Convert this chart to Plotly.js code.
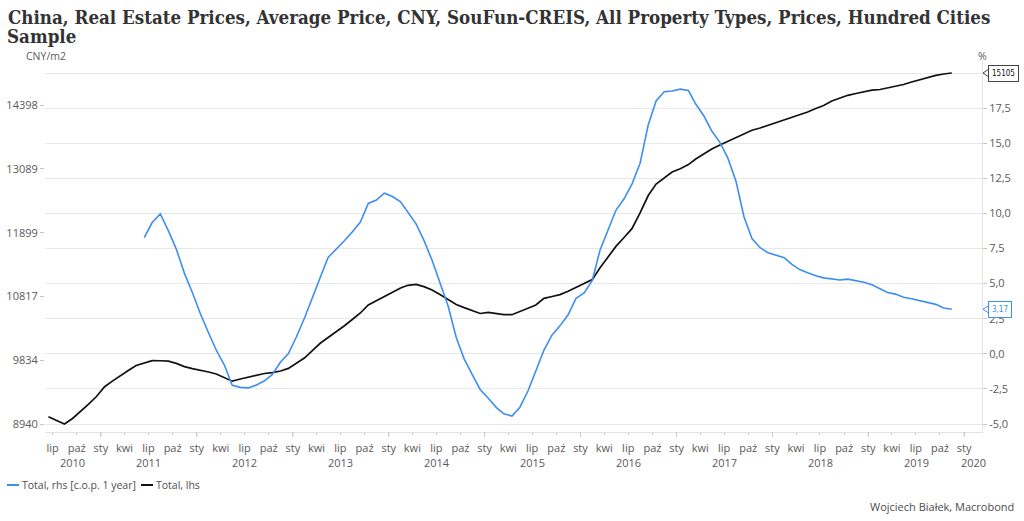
<!DOCTYPE html>
<html>
<head>
<meta charset="utf-8">
<script src="https://cdn.plot.ly/plotly-3.0.1.min.js"></script>
<style>html,body{margin:0;padding:0;background:#fff;}#chart{width:1024px;height:521px;}</style>
</head>
<body>
<div id="chart"></div>
<script>
// ---- data ----
const titleLine1 = "China, Real Estate Prices, Average Price, CNY, SouFun-CREIS, All Property Types, Prices, Hundred Cities";
const titleLine2 = "Sample";
const blackName = "Total, lhs";
const blueName = "Total, rhs [c.o.p. 1 year]";
const blackStart = [2010, 6];   // first month of the price series
const blueStart = [2011, 6];    // first month of the y/y series
const priceTotal = [
  9038, 8987, 8940, 9014, 9106, 9211, 9315, 9452, 9535, 9611,
  9684, 9757, 9790, 9827, 9826, 9820, 9787, 9741, 9712, 9691,
  9662, 9634, 9586, 9531, 9562, 9590, 9619, 9641, 9654, 9677,
  9714, 9793, 9870, 9973, 10086, 10174, 10258, 10350, 10451, 10553,
  10680, 10752, 10816, 10889, 10955, 10999, 11014, 10977, 10922, 10847,
  10768, 10688, 10638, 10592, 10545, 10562, 10542, 10526, 10526, 10572,
  10627, 10680, 10787, 10816, 10847, 10901, 10966, 11030, 11095, 11287,
  11476, 11657, 11813, 11970, 12254, 12578, 12796, 12919, 13028, 13091,
  13173, 13284, 13389, 13482, 13566, 13642, 13717, 13799, 13866, 13913,
  13970, 14022, 14074, 14127, 14188, 14250, 14323, 14389, 14486, 14551,
  14610, 14650, 14687, 14724, 14737, 14770, 14806, 14848, 14904, 14955,
  15004, 15053, 15083, 15105
];
const yoyTotal = [
  8.27, 9.35, 9.96, 8.76, 7.46, 5.73, 4.37, 2.83,
  1.48, 0.27, -0.80, -2.24, -2.39, -2.43, -2.22, -1.92, -1.47, -0.58,
  0.01, 1.23, 2.59, 4.01, 5.43, 6.86, 7.43, 8.03, 8.68, 9.39,
  10.71, 10.95, 11.44, 11.20, 10.83, 10.10, 9.26, 8.08, 6.66, 5.06,
  3.40, 1.16, -0.36, -1.49, -2.54, -3.16, -3.83, -4.27, -4.43, -3.82,
  -2.65, -1.23, 0.27, 1.35, 1.99, 2.78, 3.95, 4.33, 5.22, 7.36,
  8.85, 10.22, 11.04, 12.09, 13.57, 16.30, 18.01, 18.66, 18.72, 18.85,
  18.75, 17.79, 16.94, 15.87, 15.06, 13.95, 12.31, 9.74, 8.21, 7.56,
  7.20, 7.04, 6.85, 6.38, 6.00, 5.78, 5.56, 5.41, 5.32, 5.26,
  5.32, 5.22, 5.09, 4.91, 4.62, 4.37, 4.25, 4.03, 3.92, 3.79,
  3.65, 3.52, 3.26, 3.17
];
const leftTicks = [8940, 9834, 10817, 11899, 13089, 14398];
const rightTicks = [-5, -2.5, 0, 2.5, 5, 7.5, 10, 12.5, 15, 17.5, 20];
const monthLabels = {1: "sty", 4: "kwi", 7: "lip", 10: "paź"};
const yearLabels = [2010, 2011, 2012, 2013, 2014, 2015, 2016, 2017, 2018, 2019, 2020];
const xRange = ["2010-06-02", "2020-03-09"];
const creditText = "Wojciech Białek, Macrobond";

// ---- helpers ----
const pad2 = n => (n < 10 ? "0" : "") + n;
function monthly(start, n) {
  const out = [];
  for (let k = 0; k < n; k++) {
    const m0 = start[1] - 1 + k;
    const y = start[0] + Math.floor(m0 / 12);
    const m = (m0 % 12) + 1;
    out.push(y + "-" + pad2(m) + "-15");
  }
  return out;
}
const W = 1024, H = 521;
const mL = 45, mR = 42, mT = 62, mB = 89;
const pw = W - mL - mR, ph = H - mT - mB;
const PX = x => (x - mL) / pw;
const PY = y => (H - mB - y) / ph;

// axes ranges: data extremes sit on the -5 / 20 gridlines, with a little padding
const botPad = 8, topPad = 11, span = ph - botPad - topPad;
const lmin = Math.log10(Math.min(...priceTotal)), lmax = Math.log10(Math.max(...priceTotal));
const lper = (lmax - lmin) / span;
const leftRange = [lmin - botPad * lper, lmax + topPad * lper];
const rper = (rightTicks[rightTicks.length - 1] - rightTicks[0]) / span;
const rightRange = [rightTicks[0] - botPad * rper, rightTicks[rightTicks.length - 1] + topPad * rper];

// x ticks (quarters) and Jan tick marks
const xTickVals = [], xTickText = [], janTicks = [];
for (let y = 2010; y <= 2020; y++) {
  for (const m of [1, 4, 7, 10]) {
    const d = y + "-" + pad2(m) + "-01";
    if (d >= xRange[0] && d <= xRange[1]) {
      xTickVals.push(d); xTickText.push(monthLabels[m]);
      if (m === 1) janTicks.push(d);
    }
  }
}
const t0 = Date.parse(xRange[0] + "T00:00:00Z"), t1 = Date.parse(xRange[1] + "T00:00:00Z");
const fmt = ms => new Date(ms).toISOString().slice(0, 19).replace("T", " ");

const tickFont = {family: "Open Sans, Noto Sans, sans-serif", size: 11, color: "#595959"};
const titleFont = {family: "DejaVu Serif Condensed, DejaVu Serif, serif", size: 18.6, weight: "bold", color: "#333"};
const blue = "#3d8ef0", black = "#111111";

const traces = [
  {x: monthly(blueStart, yoyTotal.length), y: yoyTotal, name: blueName, type: "scatter", mode: "lines",
   yaxis: "y2", line: {color: blue, width: 1.6}, showlegend: false, hoverinfo: "skip"},
  {x: monthly(blackStart, priceTotal.length), y: priceTotal, name: blackName, type: "scatter", mode: "lines",
   yaxis: "y", line: {color: black, width: 1.7}, showlegend: false, hoverinfo: "skip"}
];

const annotations = [];
const shapes = [];
// second title line
annotations.push({x: PX(5), xref: "paper", y: PY(36), yref: "paper", text: titleLine2, showarrow: false,
  xanchor: "left", yanchor: "middle", font: titleFont});
// year labels centred in the visible part of each year
for (const yr of yearLabels) {
  const a = Math.max(Date.parse(yr + "-01-01T00:00:00Z"), t0);
  const b = Math.min(Date.parse((yr + 1) + "-01-01T00:00:00Z"), t1);
  if (b <= a) continue;
  annotations.push({x: fmt((a + b) / 2), xref: "x", y: PY(462), yref: "paper", text: String(yr),
    showarrow: false, xanchor: "center", yanchor: "middle", font: tickFont});
}
for (const d of janTicks) {
  shapes.push({type: "line", xref: "x", x0: d, x1: d, yref: "paper", ysizemode: "pixel", yanchor: 0,
    y0: 0, y1: -5, line: {color: "#c4c4c4", width: 1}});
}
// unit labels
annotations.push({x: PX(24), xref: "paper", y: PY(56), yref: "paper", text: "CNY/m2", showarrow: false,
  xanchor: "left", yanchor: "middle", font: {family: tickFont.family, size: 10.5, color: "#595959"}});
annotations.push({x: PX(982), xref: "paper", y: PY(56), yref: "paper", text: "%", showarrow: false,
  xanchor: "center", yanchor: "middle", font: {family: tickFont.family, size: 10.5, color: "#595959"}});
// last value boxes with a small notch pointing at the axis
const lastP = priceTotal[priceTotal.length - 1], lastY = yoyTotal[yoyTotal.length - 1];
const pLast = (Math.log10(lastP) - leftRange[0]) / (leftRange[1] - leftRange[0]);
const yLast = (lastY - rightRange[0]) / (rightRange[1] - rightRange[0]);
const boxFont = {family: "DejaVu Sans Condensed, sans-serif", size: 8};
[[pLast, String(lastP), "#444", "#111"], [yLast, lastY.toFixed(2).replace(".", ","), blue, blue]].forEach(([py, txt, bc, tc]) => {
  shapes.push({type: "path", xref: "paper", xsizemode: "pixel", xanchor: 1, yref: "paper", ysizemode: "pixel", yanchor: py,
    path: "M 7 -4 L 1 0 L 7 4 Z", fillcolor: "#fff", line: {color: bc, width: 1}, layer: "above"});
  annotations.push({x: 1, xref: "paper", xshift: 6, y: py, yref: "paper", text: txt,
    showarrow: false, xanchor: "left", yanchor: "middle", bgcolor: "#fff", bordercolor: bc, borderwidth: 1,
    borderpad: 3, font: Object.assign({color: tc}, boxFont)});
});
// manual legend
const legY = 485, legFont = {family: tickFont.family, size: 10.5, color: "#4d4d4d"};
shapes.push({type: "line", xref: "paper", yref: "paper", x0: PX(7), x1: PX(19), y0: PY(legY), y1: PY(legY), line: {color: blue, width: 2}});
annotations.push({x: PX(20), xref: "paper", y: PY(legY), yref: "paper", text: blueName, showarrow: false,
  xanchor: "left", yanchor: "middle", font: legFont});
shapes.push({type: "line", xref: "paper", yref: "paper", x0: PX(141), x1: PX(153), y0: PY(legY), y1: PY(legY), line: {color: black, width: 2}});
annotations.push({x: PX(154), xref: "paper", y: PY(legY), yref: "paper", text: blackName, showarrow: false,
  xanchor: "left", yanchor: "middle", font: legFont});
// credit
annotations.push({x: PX(1016), xref: "paper", y: PY(506), yref: "paper", text: creditText, showarrow: false,
  xanchor: "right", yanchor: "middle", font: {family: tickFont.family, size: 11, color: "#4d4d4d"}});

const layout = {
  width: W, height: H,
  margin: {l: mL, r: mR, t: mT, b: mB, pad: 0},
  paper_bgcolor: "#fff", plot_bgcolor: "#fff",
  showlegend: false,
  title: {text: titleLine1, x: 8 / W, xref: "container", xanchor: "left", y: 1 - 17 / H, yref: "container", yanchor: "middle",
    font: titleFont},
  xaxis: {type: "date", range: xRange, tickmode: "array", tickvals: xTickVals, ticktext: xTickText,
    ticks: "outside", ticklen: 2, tickcolor: "#c4c4c4", showgrid: false, zeroline: false, ticklabelstandoff: 4,
    showline: true, linecolor: "#e3e3e3", linewidth: 1, tickfont: tickFont, fixedrange: true},
  yaxis: {type: "log", range: leftRange, tickmode: "array", tickvals: leftTicks, ticktext: leftTicks.map(String),
    ticks: "outside", ticklen: 4, tickcolor: "#c4c4c4", showgrid: false, zeroline: false, showline: false,
    tickfont: tickFont, fixedrange: true},
  yaxis2: {overlaying: "y", side: "right", range: rightRange, tickmode: "array", tickvals: rightTicks,
    ticktext: rightTicks.map(v => v === 20 ? "" : v.toFixed(1).replace(".", ",")),
    ticks: "outside", ticklen: 4, tickcolor: "#c4c4c4", showgrid: true, gridcolor: "#e8e8e8", gridwidth: 1,
    zeroline: false, showline: true, linecolor: "#e3e3e3", linewidth: 1, tickfont: tickFont, fixedrange: true},
  annotations: annotations,
  shapes: shapes
};
Plotly.newPlot("chart", traces, layout, {staticPlot: true, displayModeBar: false});
</script>
</body>
</html>
